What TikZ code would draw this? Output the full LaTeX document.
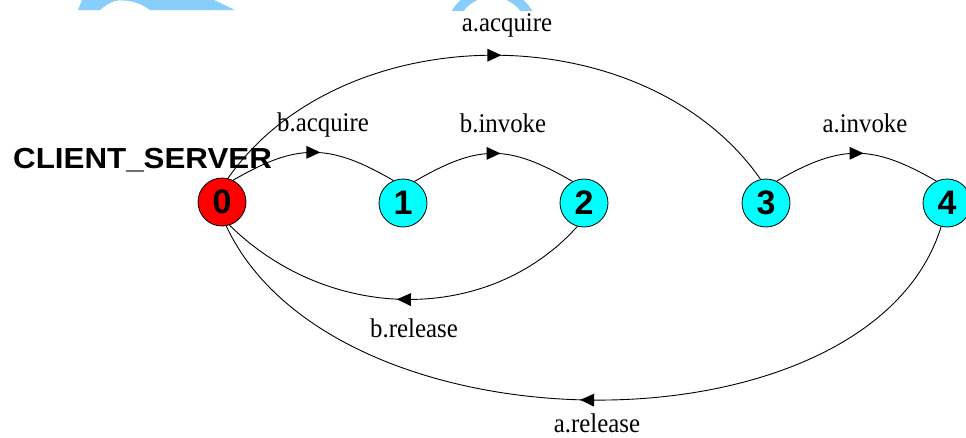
\documentclass[tikz,border=0pt]{standalone}
\usepackage{fontspec}
\usepackage{graphicx}
\setmainfont{Liberation Serif}
\setsansfont{Liberation Sans}
\usetikzlibrary{decorations.markings}
\definecolor{wmblue}{RGB}{135,206,250}
\definecolor{stred}{RGB}{255,0,0}
\definecolor{stcyan}{RGB}{0,255,255}
\newcommand{\lbltext}[1]{\scalebox{0.92}[1]{#1}}
\tikzset{
  state/.style={circle, draw=black, line width=0.8pt, minimum size=48pt, inner sep=0pt,
    font=\sffamily\bfseries\fontsize{34}{34}\selectfont},
  redstate/.style={state, fill=stred},
  cyanstate/.style={state, fill=stcyan},
  lbl/.style={anchor=base, inner sep=0pt, font=\fontsize{27}{27}\selectfont},
  trans/.style={line width=0.9pt, postaction={decorate, decoration={markings,
     mark=at position 0.5 with {\fill[black] (-7pt,6.5pt) -- (7pt,0pt) -- (-7pt,-6.5pt) -- cycle;}}}}
}
\begin{document}
\begin{tikzpicture}[x=1pt,y=-1pt]
\useasboundingbox (0,0) rectangle (966,437);
% watermark fragments
\begin{scope}
\clip (0,0) rectangle (966,10);
\fill[wmblue] (78,10) -- (82,0) -- (214,0) -- (235,10) -- (150,10)
   .. controls (140,2) and (125,-1) .. (115,1) .. controls (108,3) and (104,7) .. (100,10) -- cycle;
\fill[wmblue, even odd rule] (492,35) circle (47) (492,33) circle (36);
\end{scope}
% title
\node[anchor=base west, inner sep=0pt, font=\sffamily\bfseries\fontsize{29}{29}\selectfont] (title) at (13,168) {\scalebox{1.08}[1]{CLIENT\_SERVER}};
% states
\node[redstate] (n0) at (222,202) {0};
\node[cyanstate] (n1) at (403,203) {1};
\node[cyanstate] (n2) at (584,203) {2};
\node[cyanstate] (n3) at (766,203) {3};
\node[cyanstate] (n4) at (947,203) {4};
% transitions
\draw[trans] (n0.76) .. controls (343,14) and (645,14) .. (n3.103);
\draw[trans] (n0.63) .. controls (297,143) and (329,143) .. (n1.113);
\draw[trans] (n1.62) .. controls (479,144) and (508,144) .. (n2.118);
\draw[trans] (n3.64) .. controls (841,144) and (872,144) .. (n4.116);
\draw[trans] (n2.254) .. controls (490,324) and (330,324) .. (n0.288);
\draw[trans] (n4.256) .. controls (870,458) and (335,458) .. (n0.280);
% labels
\node[lbl] (l1) at (507,31) {\lbltext{a.acquire}};
\node[lbl] (l2) at (323,131) {\lbltext{b.acquire}};
\node[lbl] (l3) at (503,132) {\lbltext{b.invoke}};
\node[lbl] (l4) at (865,132) {\lbltext{a.invoke}};
\node[lbl] (l5) at (414,337) {\lbltext{b.release}};
\node[lbl] (l6) at (597,432) {\lbltext{a.release}};
\end{tikzpicture}
\end{document}
